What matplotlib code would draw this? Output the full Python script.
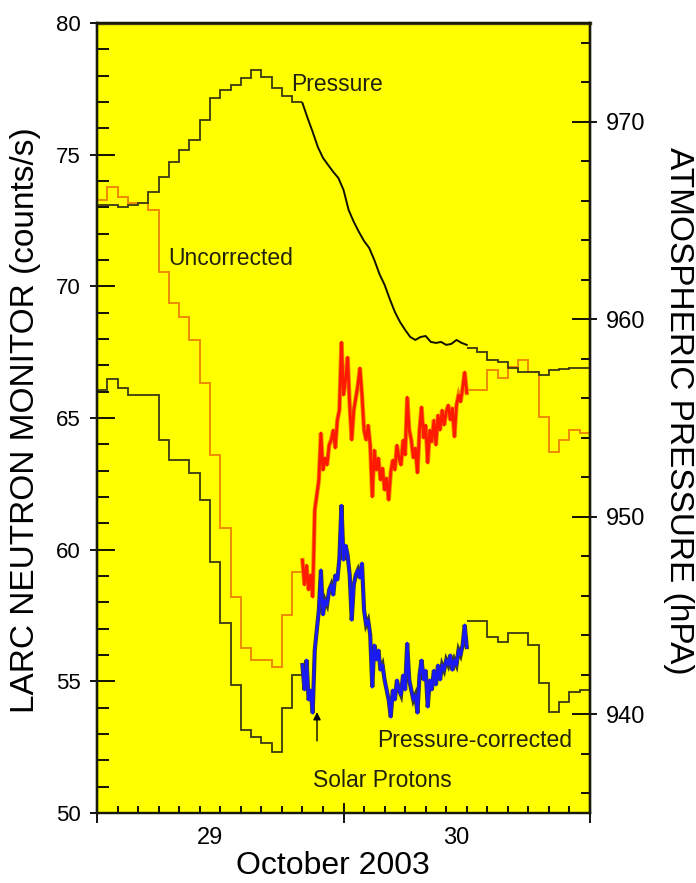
import numpy as np
import matplotlib
matplotlib.use("Agg")
import matplotlib.pyplot as plt
from matplotlib.ticker import MultipleLocator, FixedLocator

plt.rcParams['font.family'] = ['Liberation Sans', 'DejaVu Sans']

# ---- hourly averages (hours counted from 29 Oct 2003 00 UT) ----
edges_early = np.arange(0, 21)          # hours 0..19
uncorr_early = [73.28, 73.77, 73.39, 73.16, 73.16, 72.90, 70.54, 69.37, 68.83, 67.96,
                66.33, 63.59, 60.82, 58.20, 56.26, 55.81, 55.81, 55.54, 57.52, 59.15]
corr_early = [66.06, 66.48, 66.14, 65.87, 65.87, 65.87, 64.16, 63.40, 63.40, 62.91,
              61.88, 59.53, 57.21, 54.86, 53.15, 52.88, 52.65, 52.31, 53.98, 55.24]
press_early = [965.79, 965.79, 965.68, 965.79, 965.89, 966.44, 967.20, 967.96, 968.57, 969.08,
               970.09, 971.20, 971.61, 971.86, 972.21, 972.62, 972.27, 971.71, 971.30, 971.00]

edges_late = np.arange(36, 49)          # hours 36..47
uncorr_late = [66.06, 66.06, 66.82, 66.52, 66.93, 67.20, 66.74, 65.04, 63.70, 64.16, 64.54, 64.43]
corr_late = [57.30, 57.30, 56.68, 56.49, 56.83, 56.83, 56.38, 54.93, 53.83, 54.21, 54.59, 54.67]
press_late = [958.55, 958.34, 957.94, 957.84, 957.53, 957.33, 957.33, 957.18, 957.43, 957.48,
              957.53, 957.53]

# ---- 12-minute data during the event, hours 20..36 ----
t_fast = np.linspace(20, 36, 81)
uncorr_fast = [59.60, 58.66, 59.41, 58.47, 59.04, 58.20, 61.50, 62.07, 62.64, 64.43,
               63.02, 63.48, 63.21, 63.97, 64.16, 64.54, 63.86, 64.92, 65.30, 67.88,
               65.87, 66.44, 67.31, 65.49, 64.16, 65.30, 65.76, 66.25, 66.90, 65.87,
               64.54, 64.16, 64.73, 63.97, 62.00, 63.78, 63.02, 63.48, 62.64, 63.10,
               62.26, 62.72, 61.88, 62.95, 63.40, 63.02, 63.97, 63.48, 63.21, 64.16,
               63.59, 65.79, 64.54, 64.16, 63.48, 63.86, 62.91, 64.54, 65.42, 64.24,
               64.73, 63.29, 64.54, 64.09, 64.92, 63.97, 65.11, 64.54, 65.30, 64.73,
               65.23, 65.49, 64.92, 65.38, 64.28, 65.49, 65.87, 65.61, 66.14, 66.74,
               65.95]
corr_fast = [55.62, 54.67, 55.81, 54.29, 54.67, 53.79, 56.19, 56.95, 57.71, 59.23,
             57.52, 58.08, 57.90, 58.47, 58.66, 58.27, 59.04, 58.84, 59.68, 61.69,
             59.60, 60.17, 59.79, 59.04, 57.32, 58.66, 59.04, 59.23, 58.92, 59.49,
             57.71, 57.14, 57.32, 56.76, 54.78, 56.38, 55.81, 56.19, 55.42, 55.62,
             55.05, 54.67, 54.29, 53.64, 54.67, 54.29, 55.05, 54.67, 54.48, 55.24,
             54.67, 56.45, 55.05, 54.67, 54.29, 54.48, 53.79, 55.24, 55.81, 55.05,
             55.42, 54.02, 55.05, 54.67, 55.42, 54.86, 55.62, 55.05, 55.62, 55.42,
             55.81, 55.62, 56.00, 55.42, 55.81, 55.62, 56.19, 56.00, 56.38, 57.14,
             56.30]
t_press_fast = np.linspace(20, 36, 33)
press_fast = [970.95, 970.19, 969.48, 968.72, 968.17, 967.81, 967.46, 967.15, 966.55, 965.53,
              964.93, 964.42, 963.96, 963.61, 963.00, 962.29, 961.74, 961.03, 960.37, 959.86,
              959.46, 959.10, 958.95, 959.10, 959.15, 958.85, 958.80, 958.85, 958.70, 958.75,
              958.95, 958.80, 958.70]

day_labels = ["29", "30"]
day_label_pos = [11.0, 35.0]

YELLOW = '#ffff00'
ORANGE = '#ee8a00'
RED = '#ff1a00'
BLUE = '#1a1af5'
DARK = '#3a3a12'
INK = '#222210'

fig = plt.figure(figsize=(6.96, 8.83), dpi=100)
ax = fig.add_axes([0.1394, 0.0793, 0.7083, 0.8947])
ax.set_facecolor(YELLOW)
ax.set_xlim(0, 48)
ax.set_ylim(50, 80)
ax2 = ax.twinx()
ax2.set_ylim(935, 975)

# hourly step traces
ax.stairs(uncorr_early, edges_early, baseline=None, color=ORANGE, lw=1.4, zorder=2)
ax.stairs(uncorr_late, edges_late, baseline=None, color=ORANGE, lw=1.4, zorder=2)
ax.stairs(corr_early, edges_early, baseline=None, color=DARK, lw=1.3, zorder=2)
ax.stairs(corr_late, edges_late, baseline=None, color=DARK, lw=1.3, zorder=2)

# high-resolution traces
ax.plot(t_fast, uncorr_fast, color=ORANGE, lw=3.2, zorder=3, solid_joinstyle='miter')
ax.plot(t_fast, uncorr_fast, color=RED, lw=2.0, zorder=4)
ax.plot(t_fast, corr_fast, color='#3a3a30', lw=3.0, zorder=3, solid_joinstyle='miter')
ax.plot(t_fast, corr_fast, color=BLUE, lw=2.0, zorder=4)

# pressure
ax2.stairs(press_early, edges_early, baseline=None, color=DARK, lw=1.3)
ax2.stairs(press_late, edges_late, baseline=None, color=DARK, lw=1.3)
ax2.plot(t_press_fast, press_fast, color='#111100', lw=1.4)

# ticks: left axis
ax.yaxis.set_major_locator(MultipleLocator(5))
ax.yaxis.set_minor_locator(MultipleLocator(1))
ax.tick_params(axis='y', which='major', direction='in', length=13, width=1.3, labelleft=False)
ax.tick_params(axis='y', which='minor', direction='in', length=8.5, width=1.3)
sec_l = ax.secondary_yaxis('left')
sec_l.set_yticks(np.arange(50, 81, 5))
sec_l.tick_params(direction='out', length=5, width=1.3, pad=7, labelsize=16)
sec_l.spines['left'].set_linewidth(1.6)

# bottom axis
ax.xaxis.set_major_locator(FixedLocator([0, 24, 48]))
ax.xaxis.set_minor_locator(MultipleLocator(2))
ax.tick_params(axis='x', which='major', direction='inout', length=14, width=1.3, labelbottom=False)
ax.tick_params(axis='x', which='minor', direction='in', length=5, width=1.3)
for xp, lab in zip(day_label_pos, day_labels):
    ax.text(xp, -0.032, lab, transform=ax.get_xaxis_transform(), ha='center', va='center',
            fontsize=17)

# right axis
ax2.yaxis.set_major_locator(MultipleLocator(10))
ax2.yaxis.set_minor_locator(MultipleLocator(2))
ax2.tick_params(axis='y', which='major', direction='in', length=13, width=1.3, labelright=False)
ax2.tick_params(axis='y', which='minor', direction='in', length=6.5, width=1.3)
sec_r = ax2.secondary_yaxis('right')
sec_r.set_yticks([940, 950, 960, 970])
sec_r.tick_params(direction='out', length=5, width=1.3, pad=6.5, labelsize=17)
sec_r.spines['right'].set_linewidth(1.6)

for a in (ax, ax2):
    for s in a.spines.values():
        s.set_linewidth(1.6)
        s.set_color('#1a1a0a')
ax.spines['top'].set_linewidth(2.4)
ax.spines['top'].set_color('#4a4020')

# axis titles
ax.text(-0.146, 0.497, "LARC NEUTRON MONITOR (counts/s)", transform=ax.transAxes,
        rotation=90, ha='center', va='center', fontsize=24)
ax.text(1.18, 0.509, "ATMOSPHERIC PRESSURE (hPA)", transform=ax.transAxes,
        rotation=270, ha='center', va='center', fontsize=24)
ax.text(0.479, -0.067, "October 2003", transform=ax.transAxes,
        ha='center', va='center', fontsize=23)

# curve annotations
ax.text(18.9, 77.68, "Pressure", ha='left', va='center', fontsize=16.5, color=INK, zorder=6)
ax.text(6.91, 71.04, "Uncorrected", ha='left', va='center', fontsize=16.5, color=INK, zorder=6)
ax.text(27.26, 52.77, "Pressure-corrected", ha='left', va='center', fontsize=16.5, color=INK,
        zorder=6)
ax.text(21.03, 51.25, "Solar Protons", ha='left', va='center', fontsize=16.5, color=INK,
        zorder=6)
ax.annotate('', xy=(21.42, 53.83), xytext=(21.42, 52.74),
            arrowprops=dict(arrowstyle='-|>', color='k', lw=1.0, mutation_scale=11,
                            shrinkA=0, shrinkB=0), zorder=6)

fig.savefig("out.png", dpi=100, facecolor='white')
